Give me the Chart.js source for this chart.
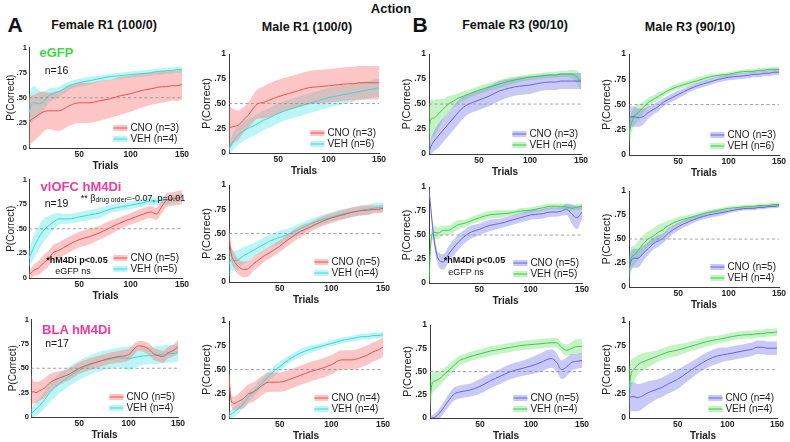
<!DOCTYPE html>
<html>
<head>
<meta charset="utf-8">
<script src="https://cdn.jsdelivr.net/npm/chart.js@4.4.1/dist/chart.umd.min.js"></script>
<style>
  body { margin: 0; background: #fff; }
  #fig { position: relative; width: 790px; height: 442px; font-family: "Liberation Sans", Arial, sans-serif; color: #111; }
  #fig canvas { position: absolute; }
  .note { position: absolute; white-space: nowrap; transform: translate(-50%, -50%); line-height: 1; }
  .note sub { font-size: 0.75em; vertical-align: -0.25em; }
</style>
</head>
<body>
<div id="fig"></div>
<script>
// trial grid the curves were read at
const trials = [1, 3, 6, 10, 15, 20, 25, 30, 35, 40, 50, 60, 70, 80, 90, 100, 110, 120, 125, 130, 135, 140, 145, 150];
const yTicks = [0, 0.25, 0.5, 0.75, 1];
const yTickLabels = ['0', '.25', '.50', '.75', '1'];
const xTicks = [50, 100, 150];
const CHANCE = 0.5;

// row 1: eGFP
const cno_eGFP_FR1 = [0.25,0.28,0.30,0.33,0.36,0.37,0.37,0.37,0.39,0.42,0.45,0.45,0.47,0.49,0.52,0.54,0.57,0.59,0.60,0.61,0.61,0.62,0.62,0.63];
const cnoErr_eGFP_FR1 = [0.25,0.24,0.23,0.22,0.20,0.18,0.19,0.20,0.20,0.20,0.20,0.20,0.20,0.19,0.19,0.18,0.17,0.16,0.16,0.16,0.15,0.15,0.15,0.15];
const veh_eGFP_FR1 = [0.35,0.42,0.45,0.44,0.46,0.52,0.54,0.56,0.59,0.62,0.65,0.67,0.69,0.71,0.72,0.73,0.74,0.75,0.76,0.76,0.77,0.77,0.78,0.78];
const vehErr_eGFP_FR1 = [0.12,0.17,0.17,0.14,0.10,0.07,0.06,0.05,0.05,0.04,0.04,0.04,0.03,0.03,0.03,0.03,0.03,0.03,0.03,0.03,0.03,0.03,0.03,0.03];

const cno_eGFP_MR1 = [0.25,0.26,0.27,0.28,0.33,0.38,0.45,0.50,0.51,0.53,0.57,0.60,0.63,0.66,0.67,0.68,0.69,0.70,0.70,0.71,0.71,0.71,0.71,0.71];
const cnoErr_eGFP_MR1 = [0.22,0.20,0.17,0.15,0.13,0.13,0.14,0.15,0.16,0.17,0.17,0.17,0.17,0.17,0.17,0.17,0.17,0.17,0.17,0.17,0.17,0.17,0.17,0.17];
const veh_eGFP_MR1 = [0.03,0.08,0.13,0.18,0.22,0.25,0.27,0.30,0.33,0.35,0.40,0.44,0.47,0.50,0.53,0.56,0.58,0.60,0.61,0.62,0.63,0.64,0.65,0.66];
const vehErr_eGFP_MR1 = [0.03,0.07,0.09,0.10,0.10,0.10,0.10,0.10,0.10,0.10,0.10,0.10,0.10,0.10,0.10,0.10,0.10,0.09,0.09,0.09,0.09,0.09,0.09,0.09];

const cno_eGFP_FR3 = [0.02,0.08,0.13,0.18,0.24,0.30,0.36,0.42,0.47,0.50,0.54,0.58,0.63,0.66,0.68,0.69,0.71,0.72,0.72,0.73,0.73,0.73,0.73,0.73];
const cnoErr_eGFP_FR3 = [0.05,0.08,0.10,0.12,0.12,0.12,0.12,0.12,0.11,0.10,0.10,0.10,0.10,0.09,0.09,0.09,0.08,0.08,0.08,0.08,0.08,0.08,0.08,0.08];
const veh_eGFP_FR3 = [0.25,0.35,0.36,0.40,0.45,0.50,0.53,0.56,0.58,0.60,0.64,0.67,0.70,0.73,0.75,0.77,0.78,0.79,0.79,0.80,0.80,0.80,0.78,0.72];
const vehErr_eGFP_FR3 = [0.20,0.20,0.18,0.15,0.10,0.08,0.06,0.05,0.05,0.04,0.04,0.04,0.04,0.04,0.03,0.03,0.03,0.03,0.03,0.03,0.03,0.04,0.06,0.08];

const cno_eGFP_MR3 = [0.35,0.38,0.38,0.37,0.38,0.42,0.45,0.48,0.52,0.55,0.60,0.65,0.69,0.72,0.75,0.77,0.78,0.79,0.80,0.80,0.81,0.81,0.82,0.82];
const cnoErr_eGFP_MR3 = [0.12,0.10,0.10,0.09,0.08,0.06,0.05,0.05,0.04,0.04,0.04,0.03,0.03,0.03,0.03,0.03,0.03,0.03,0.03,0.03,0.03,0.03,0.03,0.03];
const veh_eGFP_MR3 = [0.20,0.30,0.38,0.42,0.47,0.52,0.55,0.58,0.61,0.64,0.68,0.71,0.74,0.77,0.79,0.80,0.82,0.83,0.83,0.84,0.84,0.85,0.85,0.85];
const vehErr_eGFP_MR3 = [0.10,0.10,0.09,0.08,0.06,0.05,0.04,0.04,0.03,0.03,0.03,0.03,0.03,0.03,0.02,0.02,0.02,0.02,0.02,0.02,0.02,0.02,0.02,0.02];

// row 2: vlOFC hM4Di
const cno_OFC_FR1 = [0.03,0.05,0.08,0.10,0.15,0.20,0.26,0.28,0.31,0.34,0.39,0.42,0.46,0.51,0.56,0.60,0.64,0.67,0.65,0.72,0.79,0.80,0.81,0.82];
const cnoErr_OFC_FR1 = [0.03,0.05,0.06,0.07,0.08,0.08,0.08,0.08,0.08,0.08,0.08,0.08,0.07,0.07,0.06,0.06,0.06,0.06,0.06,0.07,0.07,0.07,0.07,0.07];
const veh_OFC_FR1 = [0.20,0.25,0.32,0.40,0.48,0.53,0.57,0.60,0.60,0.60,0.62,0.64,0.66,0.70,0.72,0.74,0.76,0.78,0.78,0.79,0.79,0.80,0.81,0.82];
const vehErr_OFC_FR1 = [0.08,0.10,0.12,0.12,0.12,0.10,0.08,0.06,0.05,0.05,0.05,0.05,0.05,0.04,0.04,0.04,0.04,0.04,0.04,0.04,0.04,0.04,0.04,0.04];

const cno_OFC_MR1 = [0.50,0.30,0.22,0.16,0.13,0.14,0.19,0.23,0.27,0.30,0.37,0.45,0.52,0.57,0.62,0.66,0.69,0.72,0.73,0.74,0.74,0.75,0.75,0.76];
const cnoErr_OFC_MR1 = [0.08,0.08,0.08,0.08,0.08,0.08,0.07,0.07,0.06,0.06,0.06,0.06,0.06,0.05,0.05,0.05,0.05,0.05,0.05,0.05,0.05,0.04,0.04,0.04];
const veh_OFC_MR1 = [0.18,0.23,0.22,0.23,0.27,0.30,0.33,0.36,0.39,0.42,0.46,0.50,0.55,0.60,0.64,0.67,0.70,0.72,0.73,0.74,0.75,0.76,0.77,0.77];
const vehErr_OFC_MR1 = [0.15,0.12,0.10,0.10,0.09,0.08,0.07,0.07,0.07,0.07,0.07,0.06,0.06,0.05,0.05,0.05,0.05,0.05,0.05,0.05,0.05,0.05,0.05,0.05];

const cno_OFC_FR3 = [0.98,0.75,0.45,0.25,0.22,0.30,0.37,0.43,0.48,0.52,0.56,0.60,0.62,0.65,0.68,0.71,0.72,0.74,0.74,0.75,0.77,0.72,0.68,0.74];
const cnoErr_OFC_FR3 = [0.02,0.04,0.06,0.07,0.08,0.08,0.08,0.08,0.07,0.07,0.06,0.06,0.05,0.05,0.05,0.05,0.05,0.05,0.05,0.05,0.06,0.10,0.12,0.07];
const veh_OFC_FR3 = [0.02,0.45,0.53,0.52,0.55,0.55,0.58,0.61,0.62,0.64,0.68,0.71,0.72,0.73,0.75,0.76,0.78,0.80,0.80,0.80,0.79,0.78,0.79,0.80];
const vehErr_OFC_FR3 = [0.02,0.08,0.07,0.06,0.05,0.05,0.05,0.05,0.04,0.04,0.04,0.04,0.04,0.03,0.03,0.03,0.03,0.03,0.03,0.03,0.03,0.03,0.03,0.03];

const cno_OFC_MR3 = [0.20,0.27,0.30,0.30,0.35,0.40,0.45,0.48,0.51,0.56,0.63,0.68,0.72,0.75,0.77,0.79,0.81,0.82,0.82,0.83,0.83,0.84,0.84,0.85];
const cnoErr_OFC_MR3 = [0.10,0.10,0.10,0.10,0.08,0.07,0.06,0.06,0.05,0.05,0.04,0.04,0.03,0.03,0.03,0.02,0.02,0.02,0.02,0.02,0.02,0.02,0.02,0.02];
const veh_OFC_MR3 = [0.15,0.30,0.33,0.38,0.45,0.50,0.53,0.57,0.60,0.64,0.69,0.72,0.75,0.78,0.80,0.82,0.83,0.84,0.84,0.85,0.85,0.85,0.86,0.86];
const vehErr_OFC_MR3 = [0.15,0.12,0.10,0.10,0.09,0.08,0.08,0.08,0.07,0.05,0.04,0.03,0.03,0.02,0.02,0.02,0.02,0.02,0.02,0.02,0.02,0.02,0.02,0.02];

// row 3: BLA hM4Di
const cno_BLA_FR1 = [0.25,0.26,0.25,0.27,0.30,0.35,0.38,0.40,0.42,0.44,0.50,0.54,0.57,0.60,0.62,0.64,0.73,0.70,0.65,0.63,0.62,0.66,0.68,0.72];
const cnoErr_BLA_FR1 = [0.20,0.12,0.11,0.10,0.10,0.09,0.08,0.07,0.06,0.06,0.06,0.06,0.06,0.06,0.06,0.06,0.05,0.06,0.06,0.06,0.06,0.06,0.06,0.07];
const veh_BLA_FR1 = [0.03,0.05,0.08,0.12,0.18,0.25,0.30,0.35,0.38,0.42,0.48,0.53,0.57,0.59,0.61,0.60,0.62,0.63,0.63,0.64,0.64,0.65,0.65,0.66];
const vehErr_BLA_FR1 = [0.05,0.06,0.07,0.08,0.09,0.10,0.10,0.10,0.10,0.10,0.10,0.10,0.10,0.10,0.10,0.12,0.10,0.09,0.09,0.09,0.09,0.09,0.09,0.09];

const cno_BLA_MR1 = [0.45,0.18,0.15,0.17,0.20,0.25,0.27,0.31,0.35,0.37,0.37,0.40,0.44,0.48,0.51,0.55,0.60,0.60,0.61,0.63,0.65,0.68,0.70,0.73];
const cnoErr_BLA_MR1 = [0.05,0.06,0.07,0.08,0.10,0.10,0.10,0.10,0.10,0.10,0.10,0.10,0.10,0.10,0.10,0.10,0.10,0.10,0.10,0.10,0.10,0.10,0.10,0.10];
const veh_BLA_MR1 = [0.02,0.04,0.06,0.10,0.15,0.22,0.27,0.33,0.38,0.44,0.53,0.61,0.67,0.71,0.74,0.77,0.80,0.82,0.83,0.84,0.84,0.85,0.85,0.86];
const vehErr_BLA_MR1 = [0.04,0.04,0.05,0.05,0.05,0.05,0.05,0.05,0.05,0.05,0.05,0.04,0.04,0.04,0.03,0.03,0.03,0.03,0.03,0.03,0.03,0.03,0.03,0.03];

const cno_BLA_FR3 = [0.00,0.00,0.01,0.05,0.12,0.20,0.26,0.28,0.29,0.30,0.34,0.40,0.45,0.50,0.53,0.56,0.60,0.64,0.60,0.52,0.55,0.60,0.61,0.62];
const cnoErr_BLA_FR3 = [0.02,0.03,0.04,0.05,0.06,0.07,0.07,0.07,0.07,0.07,0.08,0.08,0.08,0.08,0.08,0.09,0.10,0.10,0.10,0.10,0.10,0.09,0.08,0.08];
const veh_BLA_FR3 = [0.20,0.37,0.40,0.42,0.47,0.52,0.57,0.62,0.64,0.66,0.69,0.72,0.74,0.76,0.78,0.79,0.80,0.81,0.81,0.76,0.73,0.75,0.77,0.77];
const vehErr_BLA_FR3 = [0.15,0.12,0.10,0.08,0.07,0.06,0.06,0.05,0.05,0.05,0.05,0.05,0.05,0.05,0.05,0.05,0.05,0.05,0.05,0.05,0.06,0.07,0.08,0.08];

const cno_BLA_MR3 = [0.20,0.22,0.22,0.21,0.23,0.26,0.28,0.30,0.32,0.35,0.40,0.47,0.54,0.60,0.64,0.66,0.68,0.70,0.71,0.73,0.73,0.72,0.72,0.72];
const cnoErr_BLA_MR3 = [0.15,0.15,0.15,0.14,0.13,0.12,0.11,0.10,0.10,0.10,0.10,0.09,0.08,0.08,0.08,0.07,0.07,0.07,0.07,0.07,0.07,0.07,0.07,0.07];
const veh_BLA_MR3 = [0.30,0.45,0.50,0.55,0.58,0.60,0.62,0.64,0.66,0.68,0.70,0.73,0.76,0.79,0.81,0.83,0.85,0.86,0.86,0.87,0.87,0.88,0.88,0.89];
const vehErr_BLA_MR3 = [0.20,0.15,0.12,0.10,0.09,0.08,0.07,0.06,0.06,0.06,0.06,0.05,0.05,0.05,0.04,0.04,0.04,0.04,0.04,0.04,0.04,0.04,0.04,0.04];

const FONT = '"Liberation Sans", Arial, sans-serif';
const palR1 = { cno: { line: '#e9524c', band: 'rgba(247,120,120,0.42)' }, veh: { line: '#3fd6d6', band: 'rgba(95,232,232,0.42)' } };
const palR3 = { cno: { line: '#6464de', band: 'rgba(120,120,238,0.40)' }, veh: { line: '#3cc94a', band: 'rgba(110,225,110,0.40)' } };

// rect = plot area [left, top, right, bottom] in page pixels
const panels = [
  { rect: [29, 47, 182, 148], col: 0, pal: palR1, cno: cno_eGFP_FR1, cnoErr: cnoErr_eGFP_FR1, veh: veh_eGFP_FR1, vehErr: vehErr_eGFP_FR1, nCno: 3, nVeh: 4 },
  { rect: [229, 52, 379, 153], col: 1, pal: palR1, cno: cno_eGFP_MR1, cnoErr: cnoErr_eGFP_MR1, veh: veh_eGFP_MR1, vehErr: vehErr_eGFP_MR1, nCno: 3, nVeh: 6 },
  { rect: [429, 52, 581, 154], col: 2, pal: palR3, cno: cno_eGFP_FR3, cnoErr: cnoErr_eGFP_FR3, veh: veh_eGFP_FR3, vehErr: vehErr_eGFP_FR3, nCno: 3, nVeh: 4 },
  { rect: [629, 52, 779, 155], col: 3, pal: palR3, cno: cno_eGFP_MR3, cnoErr: cnoErr_eGFP_MR3, veh: veh_eGFP_MR3, vehErr: vehErr_eGFP_MR3, nCno: 3, nVeh: 6 },
  { rect: [29, 179, 182, 278], col: 0, pal: palR1, cno: cno_OFC_FR1, cnoErr: cnoErr_OFC_FR1, veh: veh_OFC_FR1, vehErr: vehErr_OFC_FR1, nCno: 5, nVeh: 5 },
  { rect: [229, 183, 383, 282], col: 1, pal: palR1, cno: cno_OFC_MR1, cnoErr: cnoErr_OFC_MR1, veh: veh_OFC_MR1, vehErr: vehErr_OFC_MR1, nCno: 5, nVeh: 4 },
  { rect: [429, 185, 582, 283], col: 2, pal: palR3, cno: cno_OFC_FR3, cnoErr: cnoErr_OFC_FR3, veh: veh_OFC_FR3, vehErr: vehErr_OFC_FR3, nCno: 5, nVeh: 5 },
  { rect: [629, 189, 779, 287], col: 3, pal: palR3, cno: cno_OFC_MR3, cnoErr: cnoErr_OFC_MR3, veh: veh_OFC_MR3, vehErr: vehErr_OFC_MR3, nCno: 5, nVeh: 4 },
  { rect: [31, 319, 178, 417], col: 0, pal: palR1, cno: cno_BLA_FR1, cnoErr: cnoErr_BLA_FR1, veh: veh_BLA_FR1, vehErr: vehErr_BLA_FR1, nCno: 5, nVeh: 4 },
  { rect: [229, 319, 383, 418], col: 1, pal: palR1, cno: cno_BLA_MR1, cnoErr: cnoErr_BLA_MR1, veh: veh_BLA_MR1, vehErr: vehErr_BLA_MR1, nCno: 4, nVeh: 4 },
  { rect: [430, 323, 582, 418], col: 2, pal: palR3, cno: cno_BLA_FR3, cnoErr: cnoErr_BLA_FR3, veh: veh_BLA_FR3, vehErr: vehErr_BLA_FR3, nCno: 5, nVeh: 4 },
  { rect: [629, 319, 777, 418], col: 3, pal: palR3, cno: cno_BLA_MR3, cnoErr: cnoErr_BLA_MR3, veh: veh_BLA_MR3, vehErr: vehErr_BLA_MR3, nCno: 4, nVeh: 4 },
];

const notes = [
  { text: 'Action', x: 391, y: 8, size: 13, bold: true },
  { text: 'A', x: 15, y: 24, size: 21, bold: true },
  { text: 'B', x: 420, y: 24, size: 21, bold: true },
  { text: 'Female R1 (100/0)', x: 104, y: 25, size: 12.5, bold: true },
  { text: 'Male R1 (100/0)', x: 307, y: 27, size: 12.5, bold: true },
  { text: 'Female R3 (90/10)', x: 515, y: 25, size: 12.5, bold: true },
  { text: 'Male R3 (90/10)', x: 690, y: 27, size: 12.5, bold: true },
  { text: 'eGFP', x: 56.5, y: 52, size: 13, bold: true, color: '#3ddc3d' },
  { text: 'n=16', x: 56.5, y: 70, size: 10.5 },
  { text: 'vlOFC hM4Di', x: 81, y: 185.5, size: 13, bold: true, color: '#ef3a9e' },
  { text: 'n=19', x: 56.5, y: 203, size: 10.5 },
  { html: '** β<sub>drug order</sub>=-0.07, p=0.01', x: 133, y: 199, size: 9 },
  { text: '*hM4Di p<0.05', x: 77, y: 259.5, size: 9, bold: true },
  { text: 'eGFP ns', x: 73, y: 271, size: 9 },
  { text: 'BLA hM4Di', x: 76.5, y: 329, size: 13, bold: true, color: '#ef3a9e' },
  { text: 'n=17', x: 57, y: 343, size: 10.5 },
  { text: '*hM4Di p<0.05', x: 474.5, y: 259.7, size: 9, bold: true },
  { text: 'eGFP ns', x: 466, y: 272, size: 9 },
];

const fig = document.getElementById('fig');

const clamp = v => Math.min(1, Math.max(0, v));
const series = vals => vals.map((v, i) => ({ x: trials[i], y: clamp(v) }));
const shifted = (vals, err, sign) => vals.map((v, i) => v + sign * err[i]);

// dashed chance line
const chanceLine = {
  id: 'chanceLine',
  afterDatasetsDraw(chart) {
    const { ctx, chartArea: a, scales: { y } } = chart;
    const py = y.getPixelForValue(CHANCE);
    ctx.save();
    ctx.setLineDash([3, 2.5]);
    ctx.strokeStyle = '#8c8c8c';
    ctx.lineWidth = 0.8;
    ctx.beginPath();
    ctx.moveTo(a.left, py);
    ctx.lineTo(a.right, py);
    ctx.stroke();
    ctx.restore();
  }
};

// matlab-ish legend tucked in bottom right
const cornerLegend = {
  id: 'cornerLegend',
  afterDraw(chart) {
    const { ctx, chartArea: a } = chart;
    const items = chart.data.datasets.slice(0, 2);
    ctx.save();
    ctx.font = '10px ' + FONT;
    const tw = Math.max(...items.map(d => ctx.measureText(d.label).width));
    const x0 = a.right - 3 - tw;
    items.forEach((d, i) => {
      const y = a.bottom - 20 + i * 11;
      ctx.fillStyle = d.bandColor;
      ctx.fillRect(x0 - 17, y - 3, 14, 6);
      ctx.strokeStyle = d.borderColor;
      ctx.lineWidth = 1;
      ctx.beginPath();
      ctx.moveTo(x0 - 17, y);
      ctx.lineTo(x0 - 3, y);
      ctx.stroke();
      ctx.fillStyle = '#222';
      ctx.textBaseline = 'middle';
      ctx.fillText(d.label, x0, y + 0.5);
    });
    ctx.restore();
  }
};

panels.forEach(p => {
  const [l, t, r, b] = p.rect;
  const first = p.col === 0;
  const yw = first ? 24 : 30;
  const xh = 24, padT = 6, padR = 10;
  const w = (r - l) + yw + padR;
  const h = (b - t) + padT + xh;
  const cv = document.createElement('canvas');
  cv.width = w; cv.height = h;
  cv.style.left = (l - yw) + 'px';
  cv.style.top = (t - padT) + 'px';
  cv.style.width = w + 'px';
  cv.style.height = h + 'px';
  fig.appendChild(cv);

  const line = { borderWidth: 1, pointRadius: 0, fill: false, cubicInterpolationMode: 'monotone' };
  const band = { borderWidth: 0, pointRadius: 0, cubicInterpolationMode: 'monotone' };

  new Chart(cv, {
    type: 'line',
    data: {
      datasets: [
        { ...line, label: 'CNO (n=' + p.nCno + ')', data: series(p.cno), borderColor: p.pal.cno.line, bandColor: p.pal.cno.band },
        { ...line, label: 'VEH (n=' + p.nVeh + ')', data: series(p.veh), borderColor: p.pal.veh.line, bandColor: p.pal.veh.band },
        { ...band, data: series(shifted(p.cno, p.cnoErr, -1)), fill: false },
        { ...band, data: series(shifted(p.cno, p.cnoErr, 1)), fill: 2, backgroundColor: p.pal.cno.band },
        { ...band, data: series(shifted(p.veh, p.vehErr, -1)), fill: false },
        { ...band, data: series(shifted(p.veh, p.vehErr, 1)), fill: 4, backgroundColor: p.pal.veh.band },
      ]
    },
    options: {
      responsive: false,
      animation: false,
      events: [],
      layout: { padding: { top: padT, right: padR, left: 0, bottom: 0 } },
      plugins: { legend: { display: false }, tooltip: { enabled: false } },
      scales: {
        x: {
          type: 'linear', min: 1, max: 150,
          afterBuildTicks: s => { s.ticks = xTicks.map(v => ({ value: v })); },
          afterFit: s => { s.height = xh; },
          grid: { display: false, drawTicks: false },
          border: { display: true, color: '#3a3a3a', width: 1 },
          ticks: { padding: 2, maxRotation: 0, color: '#222', font: { family: FONT, size: 8.5, weight: 'bold' } },
          title: { display: true, text: 'Trials', color: '#222', font: { family: FONT, size: 10, weight: 'bold' }, padding: { top: 0, bottom: 0 } }
        },
        y: {
          min: 0, max: 1,
          afterBuildTicks: s => { s.ticks = yTicks.map(v => ({ value: v })); },
          afterFit: s => { s.width = yw; },
          grid: { display: false, drawTicks: false },
          border: { display: true, color: '#3a3a3a', width: 1 },
          ticks: { padding: first ? 2 : 3, color: '#222', font: { family: FONT, size: first ? 7.5 : 8.5, weight: 'bold' }, callback: (v, i) => yTickLabels[i] },
          title: { display: true, text: 'P(Correct)', color: '#222', font: { family: FONT, size: first ? 10 : 11 }, padding: { top: first ? 0 : 1, bottom: 0 } }
        }
      }
    },
    plugins: [chanceLine, cornerLegend]
  });
});

notes.forEach(n => {
  const d = document.createElement('div');
  d.className = 'note';
  if (n.html) d.innerHTML = n.html; else d.textContent = n.text;
  d.style.left = n.x + 'px';
  d.style.top = n.y + 'px';
  d.style.fontSize = n.size + 'px';
  d.style.fontWeight = n.bold ? 'bold' : 'normal';
  d.style.color = n.color || '#111';
  fig.appendChild(d);
});
</script>
</body>
</html>
